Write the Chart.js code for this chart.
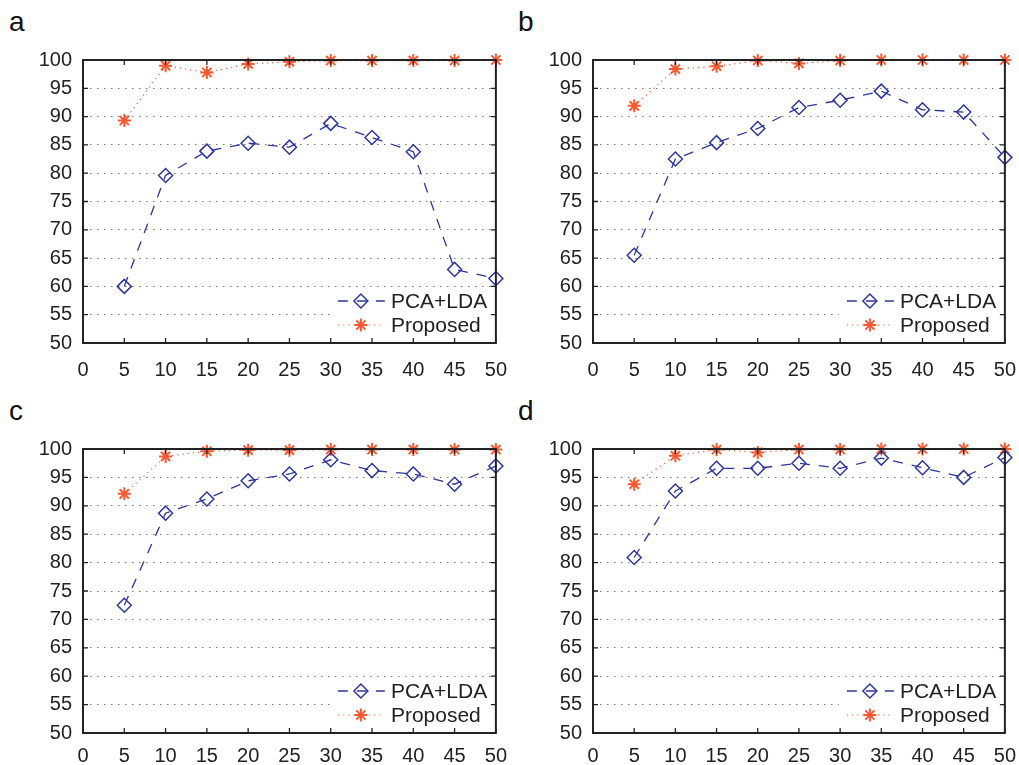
<!DOCTYPE html>
<html>
<head>
<meta charset="utf-8">
<script src="https://cdn.jsdelivr.net/npm/chart.js@4.4.0/dist/chart.umd.min.js"></script>
<style>
  body { margin: 0; background: #fff; width: 1019px; height: 765px; overflow: hidden; position: relative;
         font-family: "Liberation Sans", Arial, sans-serif; }
  .panel { position: absolute; }
  .tag { position: absolute; font-size: 28px; line-height: 28px; color: #111; }
</style>
</head>
<body>
<div class="tag" style="left:9px;top:8px">a</div>
<div class="tag" style="left:518px;top:8px">b</div>
<div class="tag" style="left:9px;top:397px">c</div>
<div class="tag" style="left:518px;top:397px">d</div>

<canvas id="chartA" class="panel" style="left:0;top:0" width="510" height="380"></canvas>
<canvas id="chartB" class="panel" style="left:510px;top:0" width="509" height="380"></canvas>
<canvas id="chartC" class="panel" style="left:0;top:390px" width="510" height="375"></canvas>
<canvas id="chartD" class="panel" style="left:510px;top:390px" width="509" height="375"></canvas>

<script>
// x positions (number of features)
const xVals = [5, 10, 15, 20, 25, 30, 35, 40, 45, 50];

// recognition rate, panel a
const pcaA  = [60.0, 79.6, 83.9, 85.3, 84.6, 88.8, 86.3, 83.8, 63.0, 61.4];
const propA = [89.3, 99.0, 97.8, 99.3, 99.7, 99.9, 99.9, 99.9, 99.9, 100];
// panel b
const pcaB  = [65.5, 82.5, 85.4, 87.9, 91.6, 92.9, 94.5, 91.2, 90.8, 82.8];
const propB = [91.9, 98.4, 98.9, 99.9, 99.4, 99.9, 100, 100, 100, 100];
// panel c
const pcaC  = [72.5, 88.7, 91.2, 94.4, 95.6, 98.1, 96.2, 95.6, 93.8, 97.0];
const propC = [92.1, 98.7, 99.6, 99.8, 99.8, 99.9, 99.9, 99.9, 99.9, 99.9];
// panel d
const pcaD  = [80.9, 92.6, 96.6, 96.6, 97.5, 96.6, 98.4, 96.7, 95.0, 98.5];
const propD = [93.8, 98.8, 99.9, 99.4, 99.9, 99.9, 100, 100, 100, 100];

const seriesNames = ['PCA+LDA', 'Proposed'];

const BLUE = 'rgb(45,55,155)';
const ORANGE = 'rgb(245,90,50)';
const FONT = '"Liberation Sans", Arial, sans-serif';

// frame, inward ticks and the legend box
const framePlugin = {
  id: 'frame',
  afterDraw(chart) {
    const { ctx, chartArea: a, scales } = chart;
    ctx.save();

    // legend
    ctx.fillStyle = '#fff';
    ctx.fillRect(a.right - 166, a.bottom - 55, 165, 54);
    chart.data.datasets.forEach((ds, i) => {
      const cy = a.bottom - 42 + i * 24;
      ctx.strokeStyle = ds.borderColor;
      ctx.lineWidth = ds.borderWidth;
      ctx.setLineDash(ds.borderDash);
      ctx.beginPath();
      ctx.moveTo(a.right - 158, cy);
      ctx.lineTo(a.right - 111, cy);
      ctx.stroke();
      ctx.setLineDash([]);
      ctx.fillStyle = 'rgba(0,0,0,0)';
      ctx.strokeStyle = ds.pointBorderColor;
      ctx.lineWidth = ds.pointBorderWidth;
      Chart.helpers.drawPoint(ctx, {
        pointStyle: ds.pointStyle, radius: ds.pointRadius, rotation: 0, borderWidth: ds.pointBorderWidth
      }, a.right - 135, cy);
      ctx.fillStyle = '#222';
      ctx.font = '21px ' + FONT;
      ctx.textAlign = 'left';
      ctx.textBaseline = 'middle';
      ctx.fillText(ds.label, a.right - 105, cy + 1);
    });

    // ticks pointing inward
    ctx.strokeStyle = '#222';
    ctx.lineWidth = 1.3;
    ctx.beginPath();
    scales.x.ticks.forEach(t => {
      const px = scales.x.getPixelForValue(t.value);
      ctx.moveTo(px, a.bottom); ctx.lineTo(px, a.bottom - 5);
      ctx.moveTo(px, a.top); ctx.lineTo(px, a.top + 5);
    });
    scales.y.ticks.forEach(t => {
      const py = scales.y.getPixelForValue(t.value);
      ctx.moveTo(a.left, py); ctx.lineTo(a.left + 5, py);
      ctx.moveTo(a.right, py); ctx.lineTo(a.right - 5, py);
    });
    ctx.stroke();

    // box
    ctx.lineWidth = 2;
    ctx.strokeRect(a.left, a.top, a.right - a.left, a.bottom - a.top);
    ctx.restore();
  }
};

function makeChart(id, pca, prop, xHeight, top, right, labelLH) {
  new Chart(document.getElementById(id), {
    type: 'line',
    data: {
      datasets: [{
        label: seriesNames[0],
        data: xVals.map((x, i) => ({ x: x, y: pca[i] })),
        borderColor: BLUE,
        borderWidth: 1.3,
        borderDash: [10, 9],
        pointStyle: 'rectRot',
        pointRadius: 7,
        pointBorderWidth: 1.5,
        pointBorderColor: BLUE,
        pointBackgroundColor: 'rgba(0,0,0,0)',
        tension: 0,
        clip: false
      }, {
        label: seriesNames[1],
        data: xVals.map((x, i) => ({ x: x, y: prop[i] })),
        borderColor: ORANGE,
        borderWidth: 1.2,
        borderDash: [1.2, 4],
        pointStyle: 'star',
        pointRadius: 6.5,
        pointBorderWidth: 2,
        pointBorderColor: ORANGE,
        pointBackgroundColor: ORANGE,
        tension: 0,
        clip: false
      }]
    },
    options: {
      responsive: false,
      animation: false,
      layout: { padding: { top: top, right: right, left: 0, bottom: 0 } },
      plugins: { legend: { display: false }, tooltip: { enabled: false } },
      scales: {
        x: {
          type: 'linear', min: 0, max: 50,
          ticks: { stepSize: 5, autoSkip: false, maxRotation: 0, padding: 3, color: '#222',
                   font: { family: FONT, size: 20, lineHeight: labelLH } },
          grid: { display: false },
          border: { display: false },
          afterFit(s) { s.height = xHeight; }
        },
        y: {
          min: 50, max: 100,
          ticks: { stepSize: 5, padding: 11, color: '#222', font: { family: FONT, size: 20 } },
          grid: { color: '#777', lineWidth: 1, drawTicks: false },
          border: { display: false, dash: [1.5, 5.5] },
          afterFit(s) { s.width = 83; }
        }
      }
    },
    plugins: [framePlugin]
  });
}

makeChart('chartA', pcaA, propA, 37, 60, 14, 1.6);
makeChart('chartB', pcaB, propB, 37, 60, 13, 1.6);
makeChart('chartC', pcaC, propC, 32, 59, 14, 1.2);
makeChart('chartD', pcaD, propD, 32, 59, 13, 1.2);
</script>
</body>
</html>
